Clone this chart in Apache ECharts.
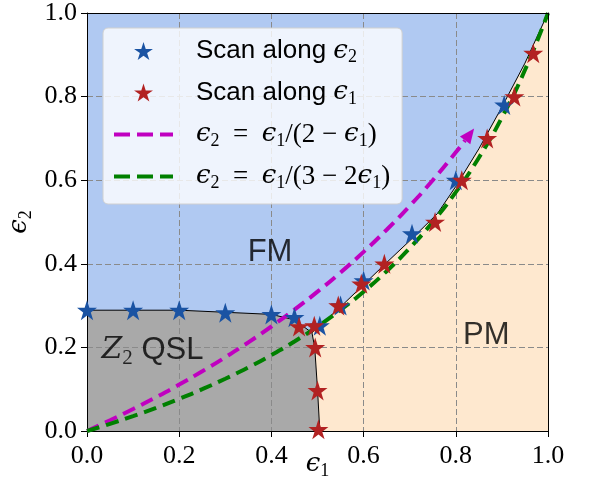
<!DOCTYPE html>
<html><head><meta charset="utf-8">
<script src="https://cdn.jsdelivr.net/npm/echarts@6/dist/echarts.min.js"></script>
<style>html,body{margin:0;padding:0;background:#fff}#c{width:592px;height:500px}</style>
</head><body><div id="c"></div>
<script>
// ---- data ----
const tickValues = [0.0, 0.2, 0.4, 0.6, 0.8, 1.0];
// Scan along eps2 (blue stars)
const scanEps2 = [[0,0.289],[0.1,0.289],[0.2,0.289],[0.3,0.283],[0.4,0.279],[0.45,0.272],[0.505,0.252],[0.55,0.30],[0.6,0.36],[0.705,0.472],[0.8,0.60],[0.905,0.78]];
// Scan along eps1 (red stars)
const scanEps1 = [[0.46,0.25],[0.493,0.252],[0.495,0.2],[0.5,0.097],[0.502,0.004],[0.545,0.30],[0.595,0.352],[0.645,0.40],[0.755,0.50],[0.813,0.60],[0.868,0.70],[0.927,0.80],[0.968,0.904]];
// eps2 = eps1/(2-eps1)
const magentaEps1 = [0,0.05,0.1,0.15,0.2,0.25,0.3,0.35,0.4,0.45,0.5,0.55,0.6,0.65,0.7,0.75,0.8,0.82];
const magentaEps2 = [0,0.02564,0.05263,0.08108,0.11111,0.14286,0.17647,0.21212,0.25,0.29032,0.33333,0.37931,0.42857,0.48148,0.53846,0.6,0.66667,0.69492];
const arrowHead = [[0.83,0.70940]];
// eps2 = eps1/(3-2eps1)
const greenEps1 = [0,0.05,0.1,0.15,0.2,0.25,0.3,0.35,0.4,0.45,0.5,0.55,0.6,0.65,0.7,0.75,0.8,0.85,0.9,0.95,1.0];
const greenEps2 = [0,0.01724,0.03571,0.05556,0.07692,0.1,0.125,0.15217,0.18182,0.21429,0.25,0.28947,0.33333,0.38235,0.4375,0.5,0.57143,0.65385,0.75,0.86364,1.0];
// phase boundaries
const boundaryQslFm = [[0,0.289],[0.2,0.289],[0.3,0.284],[0.4,0.279],[0.45,0.266],[0.488,0.235]];
const boundaryQslPm = [[0.488,0.235],[0.494,0.2],[0.5,0.1],[0.505,0]];
const boundaryFmPm = [[0.488,0.235],[0.55,0.297],[0.6,0.35],[0.65,0.403],[0.7,0.455],[0.76,0.52],[0.8,0.585],[0.85,0.675],[0.9,0.775],[0.95,0.88],[1,1]];
const plotCorners = [[0,0],[1,0],[1,1],[0,1]];
// region labels
const regionLabels = [
  {name:'FM', value:[0.397,0.428]},
  {name:'PM', value:[0.866,0.229]},
  {name:'QSL', value:[0.142,0.193]}
];

// ---- derived polygons ----
const qslPoly = [[0,0]].concat(boundaryQslFm, boundaryQslPm.slice(1));
const pmPoly = boundaryQslPm.slice().reverse().concat(boundaryFmPm.slice(1), [[1,0]]);
const zip = (xs, ys) => xs.map((x,i)=>[x, ys[i]]);

const STAR = 'path://M0,-1 L0.2245,-0.309 L0.9511,-0.309 L0.3633,0.118 L0.5878,0.809 L0,0.382 L-0.5878,0.809 L-0.3633,0.118 L-0.9511,-0.309 L-0.2245,-0.309 Z';
const DASHES = 'path://M0,0H16V4H0Z M23,0H39V4H23Z M46,0H59V4H46Z';

const BLUE = '#1a53a3', RED = '#b22222', MAG = '#c000c0', GRN = '#008000';
const SERIF = '"Liberation Serif", "DejaVu Serif", serif';
const MATHE = '"DejaVu Serif", serif';
const SANS = '"Liberation Sans", "DejaVu Sans", sans-serif';

function polySeries(name, pts, color) {
  return {
    type:'custom', name, data: pts, z:0, silent:true,
    encode:{x:0,y:1},
    renderItem:(params, api) => {
      if (params.dataIndex !== 0) return;
      return {type:'polygon', shape:{points: pts.map(p => api.coord(p))}, style:{fill: color}};
    }
  };
}
function boundarySeries(pts) {
  return {type:'line', data:pts, symbol:'none', z:1.5, silent:true, lineStyle:{color:'#000', width:1}};
}

const legendRich = {
  s:{fontFamily:SANS, fontSize:26, color:'#000', lineHeight:30},
  e:{fontFamily:MATHE, fontSize:26, fontStyle:'italic', color:'#000', lineHeight:30},
  m:{fontFamily:SERIF, fontSize:27, color:'#000', lineHeight:30},
  sub:{fontFamily:SERIF, fontSize:18, color:'#000', padding:[13,0,0,0]}
};
const legendText = {
  scan2:'{s|Scan along }{e|ϵ}{sub|2}',
  scan1:'{s|Scan along }{e|ϵ}{sub|1}',
  mag:'{e|ϵ}{sub|2}{m|  =  }{e|ϵ}{sub|1}{m|/(2 − }{e|ϵ}{sub|1}{m|)}',
  grn:'{e|ϵ}{sub|2}{m|  =  }{e|ϵ}{sub|1}{m|/(3 − 2}{e|ϵ}{sub|1}{m|)}'
};

const axisLabelStyle = {fontFamily:SERIF, fontSize:26, color:'#000', formatter: v => v.toFixed(1)};
const splitStyle = {show:true, lineStyle:{type:[6,3], color:'#8a8a8a', width:1}};
const nameRich = {
  e:{fontFamily:MATHE, fontSize:26, fontStyle:'italic', color:'#000'},
  sub:{fontFamily:SERIF, fontSize:18, color:'#000', padding:[14,0,0,0]}
};

const option = {
  animation:false,
  grid:{left:87, right:44, top:13, bottom:69, outerBoundsMode:'none', containLabel:false},
  xAxis:[
    {type:'value', min:0, max:1, interval:0.2, z:1,
     axisLine:{show:true, onZero:false, lineStyle:{color:'#000', width:1}},
     axisTick:{show:true, length:6, lineStyle:{color:'#000'}},
     axisLabel:Object.assign({margin:12}, axisLabelStyle),
     splitLine:splitStyle,
     name:'{e|ϵ}{sub|1}', nameLocation:'middle', nameGap:17, nameMoveOverlap:false, nameTextStyle:{rich:nameRich}},
    {type:'value', min:0, max:1, position:'top', z:10,
     axisLine:{show:true, onZero:false, lineStyle:{color:'#000', width:1}},
     axisTick:{show:false}, axisLabel:{show:false}, splitLine:{show:false}}
  ],
  yAxis:[
    {type:'value', min:0, max:1, interval:0.2, z:1,
     axisLine:{show:true, onZero:false, lineStyle:{color:'#000', width:1}},
     axisTick:{show:true, length:6, lineStyle:{color:'#000'}},
     axisLabel:Object.assign({margin:10}, axisLabelStyle),
     splitLine:splitStyle,
     name:'{e|ϵ}{sub|2}', nameLocation:'middle', nameGap:52, nameMoveOverlap:false, nameTextStyle:{rich:nameRich}},
    {type:'value', min:0, max:1, position:'right', z:10,
     axisLine:{show:true, onZero:false, lineStyle:{color:'#000', width:1}},
     axisTick:{show:false}, axisLabel:{show:false}, splitLine:{show:false}}
  ],
  legend:{
    orient:'vertical', left:103, top:28,
    padding:[10,12,12,11], itemGap:13, itemWidth:59, itemHeight:18,
    backgroundColor:'rgba(255,255,255,0.8)', borderColor:'#d0d0d0', borderWidth:1, borderRadius:5,
    symbolKeepAspect:true,
    data:[
      {name:'scan2', icon:STAR, itemStyle:{color:BLUE}},
      {name:'scan1', icon:STAR, itemStyle:{color:RED}},
      {name:'mag', icon:DASHES, itemStyle:{color:MAG}},
      {name:'grn', icon:DASHES, itemStyle:{color:GRN}}
    ],
    formatter: n => legendText[n],
    textStyle:{padding:[0,0,0,18], rich:legendRich}
  },
  series:[
    polySeries('FMregion', plotCorners, '#b0c9f2'),
    polySeries('QSLregion', qslPoly, '#a9a9a9'),
    polySeries('PMregion', pmPoly, '#fee8cf'),
    boundarySeries(boundaryQslFm),
    boundarySeries(boundaryQslPm),
    boundarySeries(boundaryFmPm),
    {name:'mag', type:'line', data: zip(magentaEps1, magentaEps2), smooth:true, symbol:'none', z:3, silent:true,
     itemStyle:{color:MAG}, lineStyle:{color:MAG, width:4, type:[13,7]}},
    {name:'magArrow', type:'scatter', data: arrowHead, symbol:'triangle', symbolSize:[13,15], symbolRotate:-37, z:3, silent:true,
     itemStyle:{color:MAG, opacity:1}},
    {name:'grn', type:'line', data: zip(greenEps1, greenEps2), smooth:true, symbol:'none', z:3, silent:true,
     itemStyle:{color:GRN}, lineStyle:{color:GRN, width:4, type:[13,7]}},
    {name:'scan2', type:'scatter', data: scanEps2, symbol:STAR, symbolSize:20, z:4, silent:true, itemStyle:{color:BLUE, opacity:1}},
    {name:'scan1', type:'scatter', data: scanEps1, symbol:STAR, symbolSize:20, z:5, silent:true, itemStyle:{color:RED, opacity:1}},
    {type:'scatter', data: regionLabels, symbolSize:0, z:6, silent:true,
     label:{show:true, position:'inside',
       formatter: p => p.name === 'QSL' ? '{z|Z}{zs|2}{q| QSL}' : '{q|' + p.name + '}',
       rich:{
         q:{fontFamily:SANS, fontSize:31, color:'#000'},
         z:{fontFamily:MATHE, fontSize:30, fontStyle:'italic', color:'#000'},
         zs:{fontFamily:SERIF, fontSize:21, color:'#000', padding:[16,0,0,0]}
       }}}
  ]
};
const chart = echarts.init(document.getElementById('c'), null, {renderer:'canvas'});
chart.setOption(option);
</script></body></html>
